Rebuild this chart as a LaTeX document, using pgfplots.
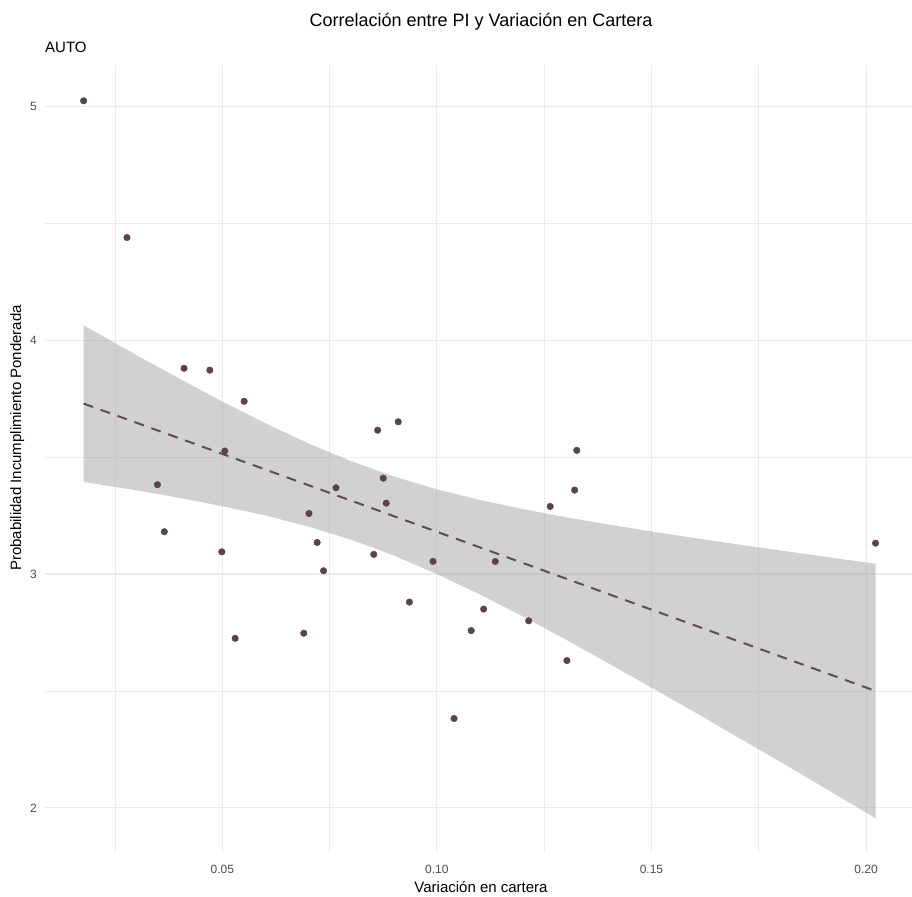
\documentclass[border=0pt]{standalone}
\usepackage{pgfplots}
\pgfplotsset{compat=1.18}
\usepackage{fontspec}
\setmainfont{Liberation Sans}

\definecolor{pts}{RGB}{92,66,78}
\definecolor{grid92}{RGB}{235,235,235}
\definecolor{gray30}{RGB}{77,77,77}

\begin{document}
\begin{tikzpicture}
  \useasboundingbox (0,0) rectangle (912bp,897bp);
  \begin{axis}[
    at={(45bp,44bp)}, anchor=south west,
    scale only axis,
    width=867bp, height=788bp,
    xmin=0.0087, xmax=0.2107,
    ymin=1.807, ymax=5.177,
    xtick={0.05,0.10,0.15,0.20},
    xticklabels={0.05,0.10,0.15,0.20},
    ytick={2,3,4,5},
    yticklabels={2,3,4,5},
    minor xtick={0.025,0.075,0.125,0.175},
    minor ytick={2.5,3.5,4.5},
    grid=both,
    major grid style={grid92, line width=1.1bp},
    minor grid style={grid92, line width=0.6bp},
    axis line style={draw=none},
    major tick length=0pt, minor tick length=0pt,
    tick style={draw=none},
    xticklabel style={font=\fontsize{12bp}{14bp}\selectfont, text=gray30, inner sep=0pt, yshift=-12bp},
    yticklabel style={font=\fontsize{12bp}{14bp}\selectfont, text=gray30, inner sep=0pt, xshift=-8bp},
    clip=true,
  ]
  % puntos
  \addplot[only marks, mark=*, mark size=3.3bp, pts, mark options={draw=pts, fill=pts}]
    coordinates {
      (0.0177,5.024)(0.0278,4.439)(0.0411,3.880)(0.0471,3.872)
      (0.0551,3.739)(0.0506,3.526)(0.0349,3.382)(0.0765,3.369)
      (0.0702,3.259)(0.0365,3.181)(0.0721,3.135)(0.0499,3.095)
      (0.0736,3.014)(0.0530,2.725)(0.0690,2.747)(0.0862,3.615)
      (0.0910,3.651)(0.0875,3.410)(0.0882,3.303)(0.0853,3.084)
      (0.0991,3.054)(0.1136,3.054)(0.0936,2.880)(0.1109,2.850)
      (0.1080,2.758)(0.1214,2.800)(0.1303,2.630)(0.1040,2.382)
      (0.1326,3.529)(0.1321,3.359)(0.1264,3.289)(0.2022,3.132)
    };

  % banda de confianza
  \addplot[draw=none, fill=black!40, fill opacity=0.45]
    coordinates {
      (0.0177,4.064)(0.03,3.936)(0.04,3.836)(0.05,3.738)(0.06,3.645)
      (0.07,3.559)(0.08,3.483)(0.09,3.417)(0.10,3.362)(0.11,3.317)
      (0.12,3.278)(0.13,3.243)(0.14,3.212)(0.15,3.182)(0.16,3.154)
      (0.17,3.127)(0.18,3.101)(0.19,3.075)(0.2022,3.044)
      (0.2022,1.956)(0.19,2.089)(0.18,2.197)(0.17,2.303)(0.16,2.410)
      (0.15,2.514)(0.14,2.618)(0.13,2.720)(0.12,2.819)(0.11,2.913)
      (0.10,3.000)(0.09,3.079)(0.08,3.147)(0.07,3.203)(0.06,3.251)
      (0.05,3.290)(0.04,3.326)(0.03,3.358)(0.0177,3.394)
    } -- cycle;

  % recta ajustada
  \addplot[pts!85!gray, line width=2bp, dash pattern=on 10bp off 8bp]
    coordinates {(0.0177,3.729)(0.2022,2.500)};
  \end{axis}

  \node[anchor=base, font=\fontsize{18bp}{21bp}\selectfont] at (481bp,870bp)
    {Correlación entre PI y Variación en Cartera};
  \node[anchor=base west, inner sep=0pt, font=\fontsize{15bp}{18bp}\selectfont] at (45bp,844bp) {AUTO};
  \node[anchor=base, inner sep=0pt, font=\fontsize{15bp}{18bp}\selectfont] at (481bp,4.5bp)
    {Variación en cartera};
  \node[anchor=base, inner sep=0pt, rotate=90, font=\fontsize{15bp}{18bp}\selectfont] at (21bp,459bp)
    {Probabilidad Incumplimiento Ponderada};
\end{tikzpicture}
\end{document}
